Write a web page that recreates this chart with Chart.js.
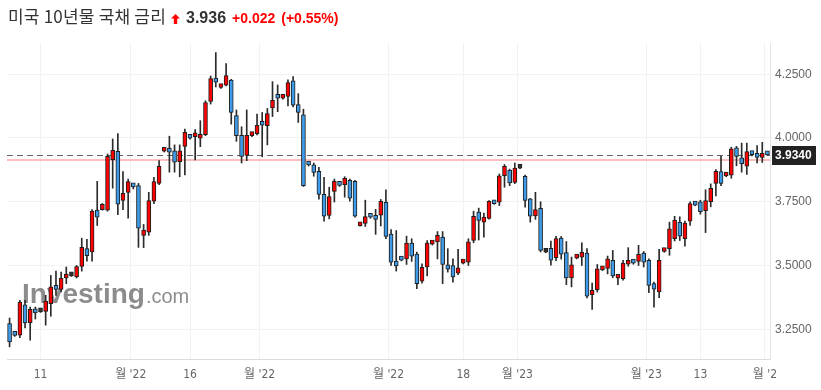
<!DOCTYPE html>
<html>
<head>
<meta charset="utf-8">
<script src="https://cdn.jsdelivr.net/npm/chart.js@4.4.1/dist/chart.umd.min.js"></script>
<style>
  html, body { margin: 0; padding: 0; background: #fff; }
  #wrap { position: relative; width: 821px; height: 390px; overflow: hidden; }
  #c { position: absolute; left: 0; top: 0; }
  #head {
    position: absolute; left: 8px; top: 4px; height: 24px; line-height: 24px;
    white-space: nowrap; font-family: "Liberation Sans", Arial, sans-serif; color: #333;
  }
  #head .name { font-family: "Noto Sans CJK KR", sans-serif; font-size: 17px; letter-spacing: 0.2px; }
  #head svg { display: inline-block; vertical-align: -1px; margin: 0 6px 0 5px; }
  #head .last { font-size: 16px; font-weight: bold; color: #333; }
  #head .chg { font-size: 14px; font-weight: bold; color: #f00; margin-left: 6px; }
</style>
</head>
<body>
<div id="wrap">
  <canvas id="c" width="821" height="390"></canvas>
  <div id="head">
    <span class="name" id="name"></span><svg width="9" height="10" viewBox="0 0 9 10"><polygon points="4.5,0 9,4.5 6.2,4.5 6.2,10 2.8,10 2.8,4.5 0,4.5" fill="#f00"/></svg><span class="last" id="last"></span><span class="chg" id="chg"></span><span class="chg" id="pct"></span>
  </div>
</div>
<script>
// ---------------------------------------------------------------------------
// Header values
// ---------------------------------------------------------------------------
const TITLE = "미국 10년물 국채 금리";
const LAST = 3.936;
const CHANGE = 0.022;
const CHANGE_PCT = 0.55;
const LAST_PRICE = 3.934;   // dashed line + dark price box
const PREV_CLOSE = 3.914;   // pink reference line

// ---------------------------------------------------------------------------
// Candles
// ---------------------------------------------------------------------------
const OPEN = [
  3.272, 3.232, 3.227, 3.346, 3.276, 3.322, 3.318, 3.320, 3.350, 3.422,
  3.406, 3.451, 3.459, 3.455, 3.496, 3.566, 3.553, 3.717, 3.719, 3.717,
  3.915, 3.948, 3.755, 3.787, 3.816, 3.813, 3.618, 3.631, 3.752, 3.822,
  3.948, 3.960, 3.950, 3.907, 3.967, 4.007, 4.005, 3.999, 4.013, 4.143,
  4.227, 4.198, 4.207, 4.227, 4.088, 4.010, 3.932, 4.009, 4.017, 4.057,
  4.048, 4.118, 4.163, 4.156, 4.163, 4.224, 4.131, 4.091, 3.902, 3.895,
  3.869, 3.779, 3.696, 3.790, 3.822, 3.817, 3.834, 3.830, 3.656, 3.665,
  3.697, 3.693, 3.697, 3.748, 3.623, 3.517, 3.529, 3.526, 3.588, 3.545,
  3.439, 3.494, 3.584, 3.592, 3.611, 3.503, 3.500, 3.470, 3.509, 3.513,
  3.598, 3.709, 3.670, 3.685, 3.750, 3.748, 3.852, 3.874, 3.826, 3.882,
  3.850, 3.761, 3.694, 3.724, 3.552, 3.567, 3.531, 3.607, 3.551, 3.451,
  3.529, 3.533, 3.549, 3.386, 3.405, 3.483, 3.489, 3.520, 3.450, 3.448,
  3.505, 3.517, 3.516, 3.549, 3.520, 3.429, 3.396, 3.555, 3.566, 3.605,
  3.670, 3.605, 3.674, 3.745, 3.750, 3.715, 3.750, 3.822, 3.868, 3.851,
  3.854, 3.961, 3.922, 3.889, 3.941, 3.936, 3.924, 3.938
];
const HIGH = [
  3.294, 3.235, 3.363, 3.363, 3.337, 3.337, 3.320, 3.383, 3.461, 3.478,
  3.474, 3.494, 3.461, 3.500, 3.607, 3.603, 3.719, 3.830, 3.743, 3.937,
  3.996, 4.017, 3.868, 3.839, 3.820, 3.822, 3.661, 3.787, 3.846, 3.911,
  3.960, 4.007, 3.973, 3.973, 4.035, 4.010, 4.033, 4.068, 4.146, 4.243,
  4.335, 4.210, 4.292, 4.230, 4.110, 4.044, 4.110, 4.020, 4.094, 4.100,
  4.116, 4.221, 4.208, 4.168, 4.228, 4.241, 4.174, 4.113, 3.905, 3.902,
  3.885, 3.846, 3.807, 3.839, 3.825, 3.848, 3.839, 3.834, 3.664, 3.756,
  3.700, 3.720, 3.759, 3.797, 3.641, 3.637, 3.532, 3.615, 3.605, 3.553,
  3.507, 3.598, 3.595, 3.633, 3.633, 3.566, 3.526, 3.563, 3.520, 3.605,
  3.713, 3.725, 3.706, 3.755, 3.753, 3.859, 3.896, 3.878, 3.902, 3.884,
  3.855, 3.763, 3.787, 3.750, 3.554, 3.596, 3.614, 3.614, 3.594, 3.533,
  3.540, 3.589, 3.566, 3.431, 3.504, 3.495, 3.537, 3.559, 3.462, 3.520,
  3.570, 3.520, 3.579, 3.555, 3.526, 3.435, 3.563, 3.567, 3.670, 3.693,
  3.691, 3.674, 3.750, 3.748, 3.756, 3.797, 3.820, 3.876, 3.928, 3.860,
  3.964, 3.967, 3.980, 3.980, 3.945, 3.970, 3.983, 3.940
];
const LOW = [
  3.181, 3.222, 3.217, 3.255, 3.207, 3.290, 3.316, 3.266, 3.301, 3.383,
  3.396, 3.429, 3.457, 3.451, 3.478, 3.517, 3.517, 3.657, 3.717, 3.713,
  3.803, 3.699, 3.719, 3.686, 3.800, 3.571, 3.570, 3.618, 3.742, 3.817,
  3.945, 3.866, 3.866, 3.848, 3.855, 3.995, 3.914, 3.966, 4.009, 4.133,
  4.200, 4.194, 4.204, 4.054, 3.987, 3.902, 3.911, 4.005, 4.012, 3.926,
  3.973, 4.084, 4.103, 4.152, 4.126, 4.122, 4.061, 3.810, 3.890, 3.850,
  3.760, 3.674, 3.683, 3.749, 3.810, 3.768, 3.752, 3.689, 3.654, 3.653,
  3.685, 3.622, 3.655, 3.605, 3.500, 3.478, 3.518, 3.504, 3.516, 3.409,
  3.431, 3.459, 3.580, 3.526, 3.429, 3.474, 3.435, 3.464, 3.506, 3.500,
  3.589, 3.600, 3.611, 3.682, 3.740, 3.735, 3.807, 3.813, 3.821, 3.880,
  3.729, 3.670, 3.681, 3.553, 3.550, 3.501, 3.519, 3.525, 3.425, 3.416,
  3.526, 3.500, 3.373, 3.328, 3.396, 3.480, 3.467, 3.452, 3.425, 3.442,
  3.497, 3.505, 3.500, 3.494, 3.393, 3.337, 3.374, 3.552, 3.540, 3.596,
  3.598, 3.576, 3.657, 3.734, 3.701, 3.629, 3.730, 3.773, 3.813, 3.848,
  3.842, 3.891, 3.866, 3.857, 3.930, 3.902, 3.904, 3.932
];
const CLOSE = [
  3.200, 3.226, 3.357, 3.275, 3.328, 3.314, 3.318, 3.360, 3.416, 3.406,
  3.451, 3.459, 3.459, 3.496, 3.571, 3.539, 3.713, 3.689, 3.740, 3.928,
  3.952, 3.740, 3.783, 3.829, 3.808, 3.646, 3.639, 3.755, 3.829, 3.889,
  3.957, 3.944, 3.905, 3.950, 4.022, 3.999, 4.013, 4.007, 4.139, 4.233,
  4.219, 4.206, 4.245, 4.100, 4.009, 3.928, 4.010, 4.018, 4.050, 4.050,
  4.096, 4.148, 4.156, 4.164, 4.217, 4.129, 4.100, 3.813, 3.894, 3.865,
  3.779, 3.693, 3.770, 3.830, 3.814, 3.842, 3.764, 3.693, 3.662, 3.692,
  3.689, 3.681, 3.752, 3.614, 3.513, 3.498, 3.521, 3.588, 3.537, 3.429,
  3.493, 3.588, 3.591, 3.618, 3.504, 3.486, 3.455, 3.491, 3.517, 3.593,
  3.693, 3.677, 3.690, 3.752, 3.742, 3.852, 3.889, 3.824, 3.882, 3.882,
  3.755, 3.693, 3.719, 3.559, 3.552, 3.521, 3.606, 3.544, 3.451, 3.503,
  3.537, 3.552, 3.380, 3.403, 3.487, 3.491, 3.526, 3.459, 3.458, 3.509,
  3.513, 3.509, 3.544, 3.513, 3.422, 3.407, 3.520, 3.564, 3.644, 3.678,
  3.615, 3.666, 3.743, 3.737, 3.711, 3.755, 3.803, 3.869, 3.822, 3.859,
  3.957, 3.928, 3.899, 3.947, 3.935, 3.924, 3.940, 3.934
];

// Axis ticks
const X_TICK_POS = [6, 23.5, 35, 48.5, 73.5, 88, 98.5, 123.5, 134, 146.5];
const X_TICK_LABELS = ["11", "월 '22", "16", "월 '22", "월 '22", "18", "월 '23", "월 '23", "13", "월 '2"];
const Y_TICKS = [3.25, 3.5, 3.75, 4.0, 4.25];
const Y_MIN = 3.1333;
const Y_MAX = 4.3725;

// Colours: red = up, blue = down (Korean convention)
const UP = "#ff0000";
const DOWN = "#3d9be9";
const FLAT = "#333333";

// ---------------------------------------------------------------------------
// Header
// ---------------------------------------------------------------------------
document.getElementById("name").textContent = TITLE;
document.getElementById("last").textContent = LAST.toFixed(3);
document.getElementById("chg").textContent = "+" + CHANGE.toFixed(3);
document.getElementById("pct").textContent = "(+" + CHANGE_PCT.toFixed(2) + "%)";

// ---------------------------------------------------------------------------
// Candles as floating bars: thin wick + wider body
// ---------------------------------------------------------------------------
const idx = OPEN.map((_, i) => i);
const bodies = idx.map((i) => ({ x: i, y: [Math.min(OPEN[i], CLOSE[i]), Math.max(OPEN[i], CLOSE[i])] }));
const wicks = idx.map((i) => ({ x: i, y: [LOW[i], HIGH[i]] }));
const bodyColors = idx.map((i) => (CLOSE[i] > OPEN[i] ? UP : CLOSE[i] < OPEN[i] ? DOWN : FLAT));

// Watermark, previous close line and last-price line behind the candles,
// price box on the axis after everything
const overlay = {
  id: "overlay",
  beforeDatasetsDraw(chart) {
    const { ctx, chartArea } = chart;
    const y = chart.scales.y;
    ctx.save();

    // Investing.com watermark
    ctx.fillStyle = "rgba(120,120,120,0.85)";
    ctx.textBaseline = "alphabetic";
    ctx.font = "bold 28px 'Liberation Sans', Arial, sans-serif";
    ctx.fillText("Investing", 22, 303);
    const w = ctx.measureText("Investing").width;
    ctx.font = "20px 'Liberation Sans', Arial, sans-serif";
    ctx.fillText(".com", 22 + w + 1, 303);

    // previous close
    const yp = Math.round(y.getPixelForValue(PREV_CLOSE));
    ctx.strokeStyle = "rgba(255,110,110,0.45)";
    ctx.lineWidth = 2;
    ctx.beginPath();
    ctx.moveTo(chartArea.left, yp);
    ctx.lineTo(chartArea.right, yp);
    ctx.stroke();

    // last price dashed
    const yl = Math.round(y.getPixelForValue(LAST_PRICE)) + 0.5;
    ctx.strokeStyle = "#666";
    ctx.lineWidth = 1;
    ctx.setLineDash([6, 4]);
    ctx.beginPath();
    ctx.moveTo(chartArea.left, yl);
    ctx.lineTo(chartArea.right, yl);
    ctx.stroke();
    ctx.restore();
  },
  afterDraw(chart) {
    const { ctx, chartArea } = chart;
    const yl = chart.scales.y.getPixelForValue(LAST_PRICE);
    ctx.save();
    ctx.fillStyle = "#222";
    ctx.fillRect(chartArea.right + 2, Math.round(yl) - 9, 44, 19);
    ctx.fillStyle = "#fff";
    ctx.font = "bold 12px 'Liberation Sans', Arial, sans-serif";
    ctx.textBaseline = "middle";
    ctx.textAlign = "left";
    ctx.fillText(LAST_PRICE.toFixed(4), chartArea.right + 5, Math.round(yl) + 1);
    ctx.restore();
  },
};

new Chart(document.getElementById("c"), {
  type: "bar",
  data: {
    datasets: [
      {
        data: bodies,
        backgroundColor: bodyColors,
        borderColor: "#1e1e1e",
        borderWidth: 1,
        borderSkipped: false,
        barThickness: 4,
        minBarLength: 4,
        grouped: false,
        order: 0,
      },
      {
        data: wicks,
        backgroundColor: "#2b2b2b",
        borderWidth: 0,
        barThickness: 1,
        grouped: false,
        order: 1,
      },
    ],
  },
  options: {
    responsive: false,
    animation: false,
    layout: { padding: { top: 43, left: 7, right: 0, bottom: 0 } },
    plugins: { legend: { display: false }, tooltip: { enabled: false } },
    scales: {
      x: {
        type: "linear",
        min: -0.5,
        max: 147.5,
        offset: false,
        grid: { offset: false, color: "#f2f2f2", drawTicks: false },
        border: { color: "#dcdcdc" },
        afterBuildTicks: (scale) => {
          scale.ticks = X_TICK_POS.map((v) => ({ value: v }));
        },
        afterFit: (scale) => {
          scale.height = 31;
        },
        ticks: {
          autoSkip: false,
          maxRotation: 0,
          padding: 9,
          color: "#666",
          font: { family: "'Liberation Sans Narrow', 'DejaVu Sans Condensed', 'Noto Sans CJK KR', sans-serif", size: 12 },
          callback: (v, i) => X_TICK_LABELS[i],
        },
      },
      y: {
        position: "right",
        min: Y_MIN,
        max: Y_MAX,
        grid: { color: "#f2f2f2", drawTicks: false },
        border: { color: "#e3e3e3" },
        afterBuildTicks: (scale) => {
          scale.ticks = Y_TICKS.map((v) => ({ value: v }));
        },
        afterFit: (scale) => {
          scale.width = 51;
        },
        ticks: {
          padding: 5,
          color: "#666",
          font: { family: "'Liberation Sans', Arial, sans-serif", size: 12 },
          callback: (v) => v.toFixed(4),
        },
      },
    },
  },
  plugins: [overlay],
});
</script>
</body>
</html>
